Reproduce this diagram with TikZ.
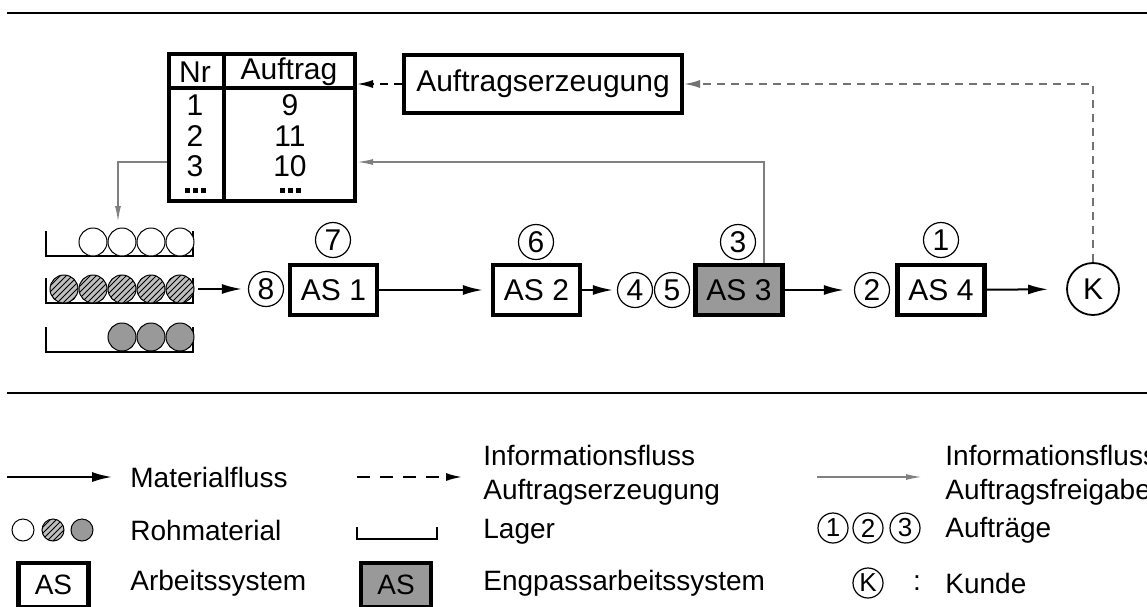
\documentclass[tikz,border=0pt]{standalone}
\usepackage{fontspec}
\setmainfont{Liberation Sans}
\usetikzlibrary{arrows.meta,patterns,calc}
\newcommand{\dreipkt}{\rule{2.5pt}{2.5pt}\hspace{1.5pt}\rule{2.5pt}{2.5pt}\hspace{1.5pt}\rule{2.5pt}{2.5pt}}
\tikzset{
  as/.style={draw,line width=2.2pt,minimum width=43.5pt,minimum height=25pt,inner sep=0pt},
  engpass/.style={as,fill=black!40},
  auftrag/.style={circle,draw,line width=0.6pt,minimum size=17.5pt,inner sep=0pt},
  kunde/.style={circle,draw,line width=0.9pt,minimum size=26pt,inner sep=0pt},
  matfluss/.style={line width=1pt,-{Latex[length=10pt,width=5pt]}},
  erzfluss/.style={dash pattern=on 4pt off 3pt,line width=0.9pt,-{Latex[length=8pt,width=4pt]}},
  freifluss/.style={color=black!50,line width=0.8pt,-{Latex[length=8pt,width=3pt]}},
  roh/.style={draw,line width=0.5pt},
  schraff/.style={roh,fill=black!25,postaction={pattern=north east lines}},
  voll/.style={roh,fill=black!40},
  lager/.style={line width=0.6pt},
  legtext/.style={anchor=west,inner sep=0pt,align=left},
}

\begin{document}
\begin{tikzpicture}[x=0.5pt,y=-0.5pt,font=\fontsize{15}{17}\selectfont]
  \useasboundingbox (0,0) rectangle (1147,606);
  \draw[line width=1pt] (7,13) -- (1147,13);
  \draw[line width=1pt] (7,393) -- (1147,393);

  % Auftragstabelle
  \node[draw,line width=2pt,minimum width=93pt,minimum height=73.5pt,inner sep=0pt] (tab) at (262,127.5) {};
  \coordinate (sp) at (224,88);
  \coordinate (r3) at (262,162);
  \draw[line width=2pt] (tab.north -| sp) -- (tab.south -| sp);
  \draw[line width=2pt] (tab.west |- sp) -- (tab.east |- sp);
  \node (nr) at (195,72) {Nr};
  \node (auf) at (289,72) {Auftrag};
  \foreach \n/\a/\y in {1/9/105, 2/11/136, 3/10/166} {
    \node (n\n) at (195,\y) {\n};
    \node (a\n) at (290,\y) {\a};
  }
  \node (nd) at (195,190) {\dreipkt};
  \node (ad) at (290,190) {\dreipkt};

  \node[draw,line width=2pt,minimum width=139pt,minimum height=29pt,inner sep=0pt] (erz) at (543,84) {Auftragserzeugung};

  % Lager
  \foreach \y in {256,303,352}
    \draw[lager] (46,\y-25) -- (46,\y) -- (193,\y) -- (193,\y-25);
  \foreach \x in {93,122,151,180}
    \draw[roh,fill=white] (\x,242) circle[radius=7pt];
  \foreach \x in {64,93,122,151,180}
    \draw[schraff] (\x,289) circle[radius=7pt];
  \foreach \x in {122,151,180}
    \draw[voll] (\x,337) circle[radius=7pt];
  \coordinate (lag1) at (118,222);
  \coordinate (lag2) at (198,289);

  % Arbeitssysteme
  \node[as] (as1) at (333.5,290) {AS 1};
  \node[as] (as2) at (536.5,290) {AS 2};
  \node[engpass] (as3) at (739,290) {AS 3};
  \node[as] (as4) at (941,290) {AS 4};
  \node[kunde] (kd) at (1093,289) {K};
  \node[auftrag] (o7) at (333,240) {7};
  \node[auftrag] (o6) at (536,242) {6};
  \node[auftrag] (o3) at (738,242) {3};
  \node[auftrag] (o1) at (941,240) {1};
  \node[auftrag] (o8) at (266,289) {8};
  \node[auftrag] (o4) at (635,290) {4};
  \node[auftrag] (o5) at (672,290) {5};
  \node[auftrag] (o2) at (872,290) {2};

  \draw[matfluss,shorten >=3pt] (lag2) -- (o8);
  \draw[matfluss,shorten >=4pt] (as1) -- (as2);
  \draw[matfluss,shorten >=2pt] (as2) -- (o4);
  \draw[matfluss,shorten >=5pt] (as3) -- (o2);
  \draw[matfluss,shorten >=9pt] (as4) -- (kd);

  \draw[erzfluss] (erz) -- (tab.east |- erz);
  \draw[erzfluss,black!55] (kd) |- (erz);
  \draw[freifluss] ([xshift=12.5pt]as3.north) |- (tab.east |- r3);
  \draw[freifluss] (tab.west |- r3) -| (lag1);

  % Legende
  \begin{scope}[font=\fontsize{14}{17}\selectfont]
    \coordinate (m1) at (7,477);
    \coordinate (m2) at (112,477);
    \draw[matfluss] (m1) -- (m2);
    \node[legtext] (tm) at (130,477) {Materialfluss};
    \coordinate (e1) at (357,477);
    \coordinate (e2) at (462,477);
    \draw[erzfluss,dash pattern=on 6.5pt off 5pt] (e1) -- (e2);
    \node[legtext] (te) at (483,475) {Informationsfluss\\Auftragserzeugung};
    \coordinate (f1) at (817,477);
    \coordinate (f2) at (922,477);
    \draw[freifluss] (f1) -- (f2);
    \node[legtext] (tf) at (945,475) {Informationsfluss\\Auftragsfreigabe};

    \draw[roh,fill=white] (23,530) circle[radius=5.5pt];
    \draw[schraff] (53,530) circle[radius=5.5pt];
    \draw[voll] (82,530) circle[radius=5.5pt];
    \node[legtext] (tr) at (130,530) {Rohmaterial};
    \draw[lager] (357,527) -- (357,539) -- (437,539) -- (437,527);
    \node[legtext] (tl) at (483,532) {Lager};
    \foreach \i/\x in {1/833,2/868,3/905}
      \node[auftrag,minimum size=15pt,font=\fontsize{13}{15}\selectfont] (l\i) at (\x,528) {\i};
    \node[legtext] (ta) at (945,530) {Aufträge};

    \node[as,minimum width=35pt,minimum height=22pt] (las) at (53.5,585) {AS};
    \node[legtext] (tas) at (130,583) {Arbeitssystem};
    \node[engpass,minimum width=35pt,minimum height=22pt] (leng) at (396,585) {AS};
    \node[legtext] (teng) at (483,583) {Engpassarbeitssystem};
    \node[auftrag,minimum size=15pt,font=\fontsize{13}{15}\selectfont] (lk) at (868,583) {K};
    \node (dp) at (917,583) {:};
    \node[legtext] (tk) at (945,583) {Kunde};
  \end{scope}
\end{tikzpicture}
\end{document}
